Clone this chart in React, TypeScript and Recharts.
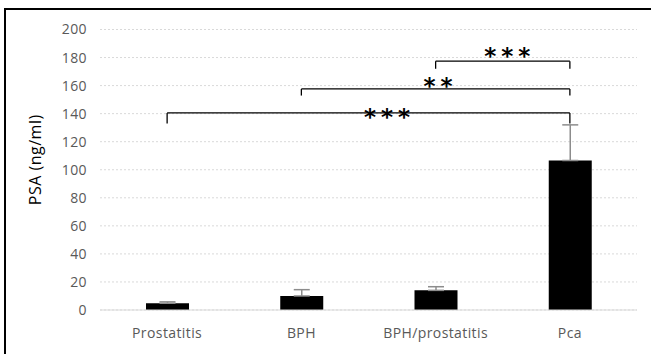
import { BarChart, Bar, XAxis, YAxis, CartesianGrid, ErrorBar, ReferenceLine } from "recharts";

const categories = ["Prostatitis", "BPH", "BPH/prostatitis", "Pca"];
const psaMean = [4.8, 10, 14, 106.6];
const psaErrUp = [1, 4.5, 2.6, 25.4];
const yTicks = [0, 20, 40, 60, 80, 100, 120, 140, 160, 180, 200];

// significance brackets: from category, to category, level, level of the end ticks, text
const bracketFrom = ["BPH/prostatitis", "BPH", "Prostatitis"];
const bracketTo = ["Pca", "Pca", "Pca"];
const bracketY = [177.4, 157.6, 140.5];
const bracketEndY = [172, 152.9, 133];
const bracketText = ["***", "**", "***"];

// label placement relative to bracket midpoint (px)
const labelDx = [7, 5, 21];
const labelDy = [-5, -3, 4];

const data = categories.map((name, i) => ({
  name,
  psa: psaMean[i],
  err: [0, psaErrUp[i]],
}));

const font = "'Open Sans', sans-serif";

export default function App() {
  return (
    <div
      style={{
        position: "absolute",
        left: 0,
        top: 0,
        width: 651,
        height: 354,
        overflow: "hidden",
        background: "#fff",
      }}
    >
      <div
        style={{
          position: "absolute",
          left: 4,
          top: 8,
          width: 700,
          height: 400,
          border: "2px solid #000",
        }}
      />
      <div style={{ position: "absolute", left: 0, top: 0 }}>
        <BarChart
          width={651}
          height={354}
          data={data}
          margin={{ top: 29.5, right: 14, left: 0, bottom: 14 }}
        >
          <CartesianGrid vertical={false} stroke="#d9d9d9" strokeDasharray="2 2" />
          <XAxis
            dataKey="name"
            height={30}
            tickLine={false}
            tickSize={0}
            tickMargin={18}
            axisLine={{ stroke: "#d9d9d9" }}
            tick={{ fill: "#595959", fontSize: 14, fontFamily: font, letterSpacing: 0.4 }}
          />
          <YAxis
            width={100}
            domain={[0, 200]}
            ticks={yTicks}
            axisLine={false}
            tickLine={false}
            tickSize={0}
            tickMargin={13}
            tick={{ fill: "#595959", fontSize: 14, fontFamily: font, letterSpacing: 0.4 }}
            label={{
              content: (p: any) => {
                const vb = p.viewBox || { x: 0, y: 29.5, height: 280.5 };
                const cx = vb.x + 35;
                const cy = vb.y + vb.height / 2 - 10;
                return (
                  <text
                    x={cx}
                    y={cy}
                    transform={`rotate(-90 ${cx} ${cy})`}
                    textAnchor="middle"
                    dominantBaseline="central"
                    fill="#000"
                    fontSize={16}
                    fontFamily={font}
                    letterSpacing={0.5}
                  >
                    PSA (ng/ml)
                  </text>
                );
              },
            }}
          />
          <Bar dataKey="psa" fill="#000" barSize={43} isAnimationActive={false}>
            <ErrorBar dataKey="err" width={8} stroke="#8c8c8c" strokeWidth={1.5} direction="y" />
          </Bar>
          {bracketFrom.map((from, i) => (
            <ReferenceLine
              key={`h${i}`}
              segment={[
                { x: from, y: bracketY[i] },
                { x: bracketTo[i], y: bracketY[i] },
              ]}
              stroke="#000"
              strokeWidth={1.3}
              label={{
                content: (p: any) => {
                  const vb = p.viewBox;
                  if (!vb) return null;
                  return (
                    <text
                      x={vb.x + vb.width / 2 + labelDx[i]}
                      y={vb.y + labelDy[i]}
                      textAnchor="middle"
                      dominantBaseline="central"
                      fill="#000"
                      fontSize={23}
                      fontWeight={600}
                      fontFamily="'DejaVu Sans', sans-serif"
                      letterSpacing={5}
                    >
                      {bracketText[i]}
                    </text>
                  );
                },
              }}
            />
          ))}
          {bracketFrom.map((from, i) => (
            <ReferenceLine
              key={`l${i}`}
              segment={[
                { x: from, y: bracketY[i] },
                { x: from, y: bracketEndY[i] },
              ]}
              stroke="#000"
              strokeWidth={1.3}
            />
          ))}
          {bracketTo.map((to, i) => (
            <ReferenceLine
              key={`r${i}`}
              segment={[
                { x: to, y: bracketY[i] },
                { x: to, y: bracketEndY[i] },
              ]}
              stroke="#000"
              strokeWidth={1.3}
            />
          ))}
        </BarChart>
      </div>
    </div>
  );
}
